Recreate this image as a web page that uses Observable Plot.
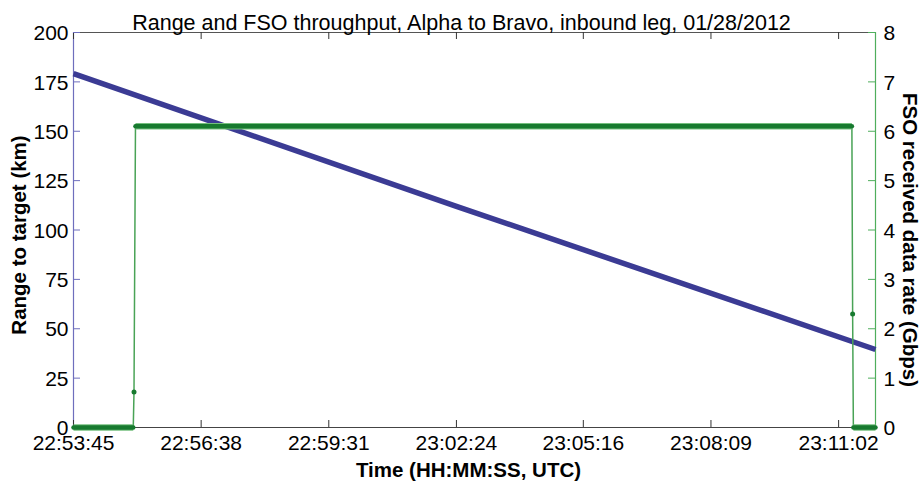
<!DOCTYPE html>
<html>
<head>
<meta charset="utf-8">
<script src="https://cdn.jsdelivr.net/npm/d3@7"></script>
<script src="https://cdn.jsdelivr.net/npm/@observablehq/plot@0.6"></script>
<style>
  html, body { margin: 0; padding: 0; background: #fff; }
</style>
</head>
<body>
<div id="chart"></div>
<script>
// Time axis (UTC clock times)
const timeStart = "22:53:45";
const timeEnd = "23:11:52";
const timeTicks = ["22:53:45", "22:56:38", "22:59:31", "23:02:24", "23:05:16", "23:08:09", "23:11:02"];

// Range to target (km), left axis
const rangeTicks = [0, 25, 50, 75, 100, 125, 150, 175, 200];
const rangeTime = ["22:53:45", "23:02:24", "23:11:52"];
const rangeKm = [179.2, 112.0, 39.5];

// FSO received data rate (Gbps), right axis
const rateTicks = [0, 1, 2, 3, 4, 5, 6, 7, 8];
const fsoTime = ["22:53:45", "22:55:06", "22:55:07", "22:55:09", "23:11:20", "23:11:21", "23:11:22", "23:11:52"];
const fsoGbps = [0, 0, 0.72, 6.1, 6.1, 2.3, 0, 0];

const title = "Range and FSO throughput, Alpha to Bravo, inbound leg, 01/28/2012";
const xLabel = "Time (HH:MM:SS, UTC)";
const yLabelLeft = "Range to target (km)";
const yLabelRight = "FSO received data rate (Gbps)";

// Right axis shares the left scale: 8 Gbps spans the same height as 200 km
const rateToKm = 200 / 8;

const toSec = s => {
  const [h, m, sec] = s.split(":").map(Number);
  return h * 3600 + m * 60 + sec;
};

const rangeData = rangeTime.map((t, i) => ({t: toSec(t), v: rangeKm[i]}));
const fsoData = fsoTime.map((t, i) => ({t: toSec(t), v: fsoGbps[i] * rateToKm}));

// Split the rate series into steady runs (equal consecutive values) and lone transition samples
const runs = [];
let run = 0;
fsoData.forEach((d, i) => {
  if (i > 0 && d.v !== fsoData[i - 1].v) run++;
  runs.push(run);
});
const runSize = d3.rollup(runs, v => v.length, r => r);
const steady = fsoData.map((d, i) => ({...d, run: runs[i]})).filter(d => runSize.get(d.run) > 1);
const lone = fsoData.filter((d, i) => runSize.get(runs[i]) === 1);

const blue = "#3b3b94";
const axisBlue = "#6e6ebd";
const greenThin = "#49a356";
const greenDark = "#177a2f";
const greenHalo = "#74bf7e";
const axisGreen = "#4fae5c";

const W = 922, H = 487, mL = 73, mR = 47, mT = 32, mB = 60;
const frameW = W - mL - mR, frameH = H - mT - mB;
const tickLen = 7;
const tickFont = 21;
const labelFont = 20.5;

const chart = Plot.plot({
  width: W,
  height: H,
  marginLeft: mL,
  marginRight: mR,
  marginTop: mT,
  marginBottom: mB,
  x: {type: "linear", domain: [toSec(timeStart), toSec(timeEnd)], axis: null},
  y: {domain: [0, 200], axis: null},
  style: {fontFamily: "'Liberation Sans', Arial, Helvetica, sans-serif", background: "#fff", color: "#000"},
  marks: [
    // frame
    Plot.ruleY([0], {stroke: "#444", strokeWidth: 1.2}),
    Plot.ruleY([200], {stroke: "#555", strokeWidth: 1}),
    Plot.ruleX([toSec(timeStart)], {stroke: axisBlue, strokeWidth: 1.2}),
    Plot.ruleX([toSec(timeEnd)], {stroke: axisGreen, strokeWidth: 1.2}),

    // inward ticks
    Plot.tickX(timeTicks, {x: d => toSec(d), insetTop: frameH - tickLen, stroke: "#333"}),
    Plot.tickX(timeTicks, {x: d => toSec(d), insetBottom: frameH - tickLen, stroke: "#333"}),
    Plot.tickY(rangeTicks, {y: d => d, insetRight: frameW - tickLen, stroke: axisBlue}),
    Plot.tickY(rateTicks, {y: d => d * rateToKm, insetLeft: frameW - tickLen, stroke: axisGreen}),

    // tick labels
    Plot.text(timeTicks, {x: d => toSec(d), frameAnchor: "bottom", dy: 22, textAnchor: "middle", text: d => d, fontSize: tickFont}),
    Plot.text(rangeTicks, {y: d => d, frameAnchor: "left", dx: -5, dy: 1, textAnchor: "end", text: d => String(d), fontSize: tickFont}),
    Plot.text(rateTicks, {y: d => d * rateToKm, frameAnchor: "right", dx: 8, dy: 1, textAnchor: "start", text: d => String(d), fontSize: tickFont}),

    // range to target
    Plot.line(rangeData, {x: "t", y: "v", stroke: blue, strokeWidth: 5.5, strokeLinecap: "butt"}),

    // FSO data rate
    Plot.line(fsoData, {x: "t", y: "v", stroke: greenThin, strokeWidth: 1.5}),
    Plot.line(steady, {x: "t", y: "v", z: "run", stroke: greenHalo, strokeWidth: 6.5, strokeLinecap: "butt"}),
    Plot.line(steady, {x: "t", y: "v", z: "run", stroke: greenDark, strokeWidth: 4.5, strokeLinecap: "round"}),
    Plot.dot(lone, {x: "t", y: "v", r: 2.5, fill: greenDark, stroke: "none"}),

    // titles
    Plot.text([title], {frameAnchor: "top", dx: -13, dy: -18, textAnchor: "middle", fontSize: 21.5}),
    Plot.text([xLabel], {frameAnchor: "bottom", dx: -6, dy: 49, textAnchor: "middle", fontSize: labelFont, fontWeight: "bold"}),
    Plot.text([yLabelLeft], {frameAnchor: "left", dx: -54, dy: 5, textAnchor: "middle", rotate: -90, fontSize: labelFont, fontWeight: "bold"}),
    Plot.text([yLabelRight], {frameAnchor: "right", dx: 34, dy: 10, textAnchor: "middle", rotate: 90, fontSize: labelFont, fontWeight: "bold"})
  ]
});

document.getElementById("chart").appendChild(chart);
</script>
</body>
</html>
